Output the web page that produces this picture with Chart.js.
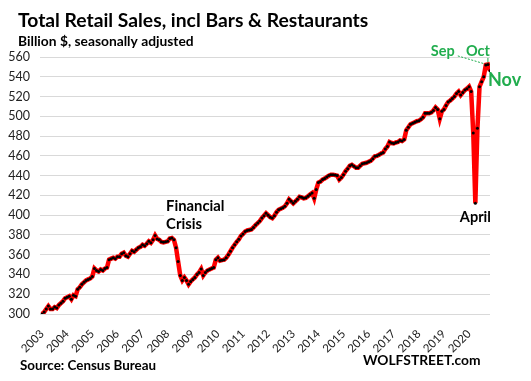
<!DOCTYPE html>
<html><head><meta charset="utf-8">
<script src="https://cdn.jsdelivr.net/npm/chart.js@4/dist/chart.umd.min.js"></script>
<style>html,body{margin:0;padding:0;background:#fff;} canvas{display:block;}</style>
</head><body>
<canvas id="c" width="531" height="381"></canvas>
<script>
// ---- data ----
const yearLabels = ['2003','2004','2005','2006','2007','2008','2009','2010','2011','2012','2013','2014','2015','2016','2017','2018','2019','2020'];
const s2003 = [300, 302, 305, 308, 305, 305, 307, 306, 309, 311, 313, 316];
const s2004 = [317, 318, 315, 319, 318, 325, 327, 330, 332, 334, 335, 336];
const s2005 = [338, 346, 344, 343, 345, 344, 346, 347, 355, 356, 357, 356];
const s2006 = [358, 358, 361, 362, 359, 358, 361, 364, 363, 365, 367, 368];
const s2007 = [370, 369, 371, 373.5, 372, 375, 379.5, 376, 375, 373, 372.5, 373];
const s2008 = [373.5, 376.5, 377, 375, 367, 353, 339, 334, 337, 334, 330, 333];
const s2009 = [335, 337, 340, 342, 345.5, 339, 342, 344, 345, 346, 347, 355];
const s2010 = [357, 354, 354.5, 355, 357, 360, 363.5, 367, 370, 373, 375.5, 379];
const s2011 = [381, 383.5, 384.5, 385, 385.5, 387.5, 390, 392, 394, 397, 399.5, 402];
const s2012 = [400, 398, 397, 399.5, 403, 405.5, 406.5, 407.5, 409, 412, 416, 414];
const s2013 = [412, 414, 416, 418.5, 418, 417, 417.5, 419, 421, 422.5, 417, 426];
const s2014 = [433, 434, 436, 437, 438.5, 440, 441, 441, 440.5, 440, 436, 438];
const s2015 = [441, 444.5, 447, 450, 451, 449.5, 448, 448, 450, 452, 452.5, 453];
const s2016 = [454, 455, 457, 459.5, 460, 461, 462.5, 463.5, 467, 469.5, 474, 473];
const s2017 = [472.5, 473.5, 474, 475.5, 475, 476.5, 486, 489, 492, 493, 494, 495];
const s2018 = [495.5, 497, 499, 503, 503, 503, 504, 506, 509, 507, 497.5, 505];
const s2019 = [507, 511, 514.5, 516, 518, 520, 523, 525, 521.5, 524, 526.5, 528];
const s2020 = [530, 525, 483, 412, 488, 530, 535, 540, 552, 552.5, 546];
const sales = [].concat(s2003, s2004, s2005, s2006, s2007, s2008, s2009, s2010, s2011,
  s2012, s2013, s2014, s2015, s2016, s2017, s2018, s2019, s2020);
const yMin = 300, yMax = 560, yStep = 20;
const APRIL = 207, SEP = 212, OCT = 213, NOV = 214, PEAK07 = 54;

// ---- style ----
const FONT = 'Lato, "Open Sans", sans-serif';
const GREEN = '#21ad4e';
const INK = '#000';

function txt(ctx, s, x, y, size, color, align) {
  ctx.font = 'bold ' + size + 'px ' + FONT;
  ctx.fillStyle = color;
  ctx.textAlign = align || 'left';
  ctx.textBaseline = 'alphabetic';
  ctx.fillText(s, x, y);
}

const overlay = {
  id: 'overlay',
  beforeDatasetsDraw(chart) {
    const {ctx, scales: {x: xs, y: ys}} = chart;
    const px = xs.getPixelForValue(PEAK07), py = ys.getPixelForValue(sales[PEAK07]);
    ctx.save();
    ctx.fillStyle = '#fff';
    ctx.fillRect(px + 9, py - 38, 64, 34);
    ctx.restore();
  },
  afterDraw(chart) {
    const {ctx, scales: {x: xs, y: ys}} = chart;
    ctx.save();
    txt(ctx, 'Total Retail Sales, incl Bars & Restaurants', 18, 27, 19.3, INK);
    txt(ctx, 'Billion $, seasonally adjusted', 18, 46, 13.8, INK);
    txt(ctx, 'Source: Census Bureau', 20, 370, 13.4, INK);
    txt(ctx, 'WOLFSTREET.com', 363, 365, 13.8, INK);

    // Financial Crisis
    const px = xs.getPixelForValue(PEAK07), py = ys.getPixelForValue(sales[PEAK07]);
    txt(ctx, 'Financial', px + 11, py - 24, 14.8, INK);
    txt(ctx, 'Crisis', px + 11, py - 6, 14.8, INK);

    // April
    txt(ctx, 'April', xs.getPixelForValue(APRIL), ys.getPixelForValue(sales[APRIL]) + 19, 14.5, INK, 'center');

    // Sep / Oct / Nov
    const sx = xs.getPixelForValue(SEP), sy = ys.getPixelForValue(sales[SEP]);
    const ox = xs.getPixelForValue(OCT), oy = ys.getPixelForValue(sales[OCT]);
    const nx = xs.getPixelForValue(NOV), ny = ys.getPixelForValue(sales[NOV]);
    txt(ctx, 'Sep', sx - 43, sy - 9, 14.5, GREEN, 'center');
    txt(ctx, 'Oct', ox - 10, sy - 9, 14.5, GREEN, 'center');
    txt(ctx, 'Nov', nx - 2, ny + 15, 18, GREEN, 'left');
    ctx.strokeStyle = GREEN;
    ctx.lineWidth = 1;
    ctx.setLineDash([2, 1.5]);
    ctx.beginPath();
    ctx.moveTo(sx - 28, sy - 9);
    ctx.lineTo(sx - 1, sy - 1);
    ctx.stroke();
    ctx.setLineDash([]);
    ctx.beginPath();
    ctx.moveTo(ox, sy - 7);
    ctx.lineTo(ox, oy - 2);
    ctx.stroke();
    ctx.restore();
  }
};

new Chart(document.getElementById('c'), {
  type: 'line',
  data: {
    datasets: [{
      data: sales.map((v, i) => ({x: i, y: v})),
      borderColor: '#ff0000',
      borderWidth: 4.5,
      pointRadius: 1.5,
      pointBackgroundColor: '#000',
      pointBorderWidth: 0,
      tension: 0,
      fill: false
    }]
  },
  options: {
    responsive: false,
    animation: false,
    devicePixelRatio: 1,
    layout: {padding: {top: 57, left: 0, right: 41, bottom: 0}},
    plugins: {legend: {display: false}, tooltip: {enabled: false}, title: {display: false}},
    scales: {
      x: {
        type: 'linear', min: -1, max: 214,
        grid: {display: false}, border: {display: false},
        afterBuildTicks: s => { s.ticks = yearLabels.map((l, k) => ({value: k * 12})); },
        afterFit: s => { s.height = 67; },
        ticks: {
          autoSkip: false, minRotation: 45, maxRotation: 45, padding: 5,
          color: '#222', font: {family: FONT, size: 11.5},
          callback: v => yearLabels[Math.round(v / 12)]
        }
      },
      y: {
        min: yMin, max: yMax,
        afterFit: s => { s.width = 40; },
        grid: {color: '#d9d9d9', drawTicks: false, lineWidth: 1},
        border: {display: false},
        ticks: {stepSize: yStep, padding: 10, color: '#222', font: {family: FONT, size: 12.5}}
      }
    }
  },
  plugins: [overlay]
});
</script>
</body></html>
